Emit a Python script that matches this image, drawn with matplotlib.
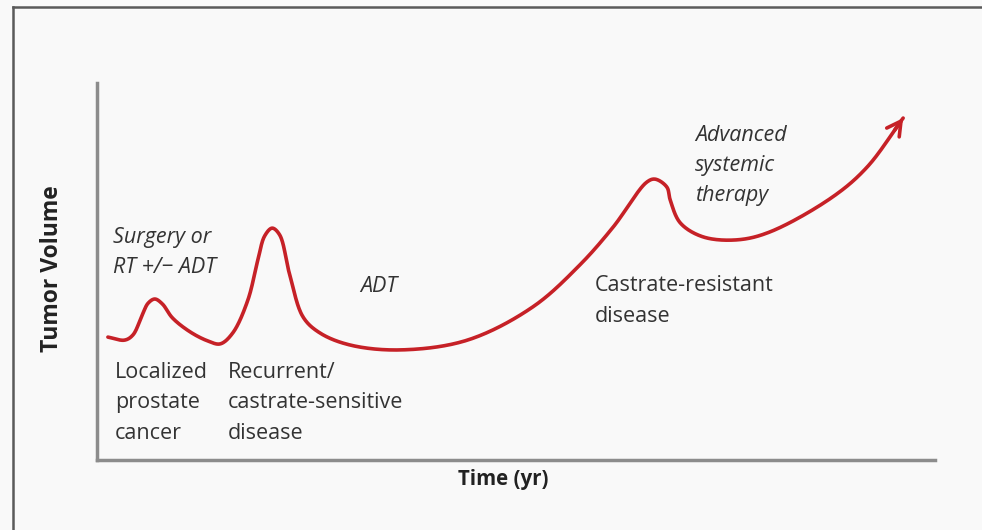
import matplotlib
matplotlib.use("Agg")
import matplotlib.pyplot as plt
import numpy as np

plt.rcParams["font.family"] = ["Open Sans", "DejaVu Sans"]

# curve (time, tumor volume), arbitrary units 0..10
time_pts = [0.13, 0.33, 0.43, 0.54, 0.61, 0.69, 0.78, 0.90, 1.11, 1.32, 1.47, 1.62,
            1.80, 1.92, 2.00, 2.09, 2.18, 2.30, 2.46, 2.66, 3.02, 3.62, 4.42, 5.20,
            5.76, 6.16, 6.56, 6.66, 6.80, 6.84, 6.96, 7.23, 7.64, 8.03, 8.78,
            9.19, 9.62]
volume_pts = [3.26, 3.18, 3.32, 3.85, 4.16, 4.27, 4.14, 3.77, 3.40, 3.16, 3.08, 3.37,
              4.24, 5.31, 5.94, 6.15, 5.97, 4.91, 3.79, 3.37, 3.05, 2.92, 3.18, 4.06,
              5.17, 6.18, 7.37, 7.45, 7.24, 6.90, 6.29, 5.92, 5.84, 6.05, 6.98,
              7.77, 9.07]

normal_labels = ["Localized\nprostate\ncancer",
                 "Recurrent/\ncastrate-sensitive\ndisease",
                 "Castrate-resistant\ndisease"]
normal_x = [0.215, 1.56, 5.94]
normal_y = [0.56, 0.56, 3.66]

italic_labels = ["Surgery or\nRT +/\u2212 ADT", "ADT", "Advanced\nsystemic\ntherapy"]
italic_x = [0.19, 3.14, 7.14]
italic_y = [4.96, 4.46, 6.87]


def centripetal_spline(px, py, n=30, alpha=0.5):
    # centripetal Catmull-Rom through the points (y scaled to pixel aspect)
    pts = np.column_stack([px, np.array(py) * 0.45])
    pts = np.vstack([2 * pts[0] - pts[1], pts, 2 * pts[-1] - pts[-2]])
    out = []
    for i in range(1, len(pts) - 2):
        p0, p1, p2, p3 = pts[i - 1], pts[i], pts[i + 1], pts[i + 2]
        t0 = 0.0
        t1 = t0 + np.linalg.norm(p1 - p0) ** alpha
        t2 = t1 + np.linalg.norm(p2 - p1) ** alpha
        t3 = t2 + np.linalg.norm(p3 - p2) ** alpha
        t = np.linspace(t1, t2, n)[:, None]
        a1 = (t1 - t) / (t1 - t0) * p0 + (t - t0) / (t1 - t0) * p1
        a2 = (t2 - t) / (t2 - t1) * p1 + (t - t1) / (t2 - t1) * p2
        a3 = (t3 - t) / (t3 - t2) * p2 + (t - t2) / (t3 - t2) * p3
        b1 = (t2 - t) / (t2 - t0) * a1 + (t - t0) / (t2 - t0) * a2
        b2 = (t3 - t) / (t3 - t1) * a2 + (t - t1) / (t3 - t1) * a3
        c = (t2 - t) / (t2 - t1) * b1 + (t - t1) / (t2 - t1) * b2
        out.append(c if i == 1 else c[1:])
    out = np.vstack(out)
    return out[:, 0], out[:, 1] / 0.45


fig = plt.figure(figsize=(9.82, 5.30), dpi=100)
fig.patch.set_facecolor("#f9f9f9")

# frame around figure
fig.add_artist(plt.Line2D([13 / 982, 13 / 982], [0, 1 - 7 / 530], transform=fig.transFigure,
                          color="#5a5a5a", lw=1.8))
fig.add_artist(plt.Line2D([13 / 982, 1.0], [1 - 7 / 530, 1 - 7 / 530], transform=fig.transFigure,
                          color="#5a5a5a", lw=1.8))

ax = fig.add_axes([97 / 982, 1 - 460 / 530, (935 - 97) / 982, (460 - 83) / 530])
ax.set_facecolor("#f9f9f9")
ax.set_xlim(0, 10)
ax.set_ylim(0, 10)
for s in ["top", "right"]:
    ax.spines[s].set_visible(False)
for s in ["left", "bottom"]:
    ax.spines[s].set_color("#8c8c8c")
    ax.spines[s].set_linewidth(2.5)
ax.set_xticks([])
ax.set_yticks([])

red = "#c62127"
cx, cy = centripetal_spline(time_pts, volume_pts)
ax.plot(cx, cy, color=red, lw=2.6, solid_capstyle="round")
ax.annotate("", xy=(cx[-1], cy[-1]), xytext=(cx[-8], cy[-8]),
            arrowprops=dict(arrowstyle="->,head_length=1.0,head_width=0.55",
                            color=red, lw=2.6, shrinkA=0, shrinkB=0))

fig.text(52 / 982, 1 - 269 / 530, "Tumor Volume", rotation=90, fontsize=16.5, fontweight="bold",
         color="#222222", ha="center", va="center")
fig.text(503 / 982, 1 - 479 / 530, "Time (yr)", fontsize=14.8, fontweight="bold",
         color="#222222", ha="center", va="center")

for txt, x, y in zip(normal_labels, normal_x, normal_y):
    ax.text(x, y, txt, fontsize=15.5, color="#333333", va="baseline", ha="left", linespacing=1.6)
for txt, x, y in zip(italic_labels, italic_x, italic_y):
    ax.text(x, y, txt, fontsize=15.5, color="#333333", va="baseline", ha="left", style="italic",
            linespacing=1.55)

fig.savefig("out.png", dpi=100, facecolor=fig.get_facecolor())
